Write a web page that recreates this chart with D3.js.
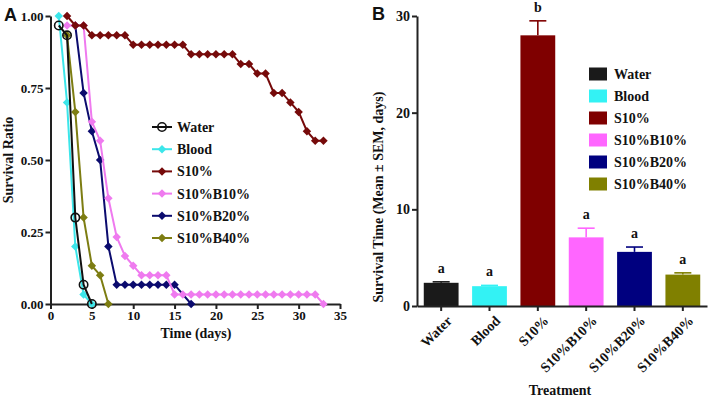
<!DOCTYPE html>
<html><head><meta charset="utf-8">
<script src="https://cdn.jsdelivr.net/npm/d3@7"></script>
<style>
html,body{margin:0;padding:0;background:#fff;}
svg text{font-family:"Liberation Serif","Times New Roman",serif;font-weight:bold;fill:#111;}
</style></head>
<body>
<svg id="c" width="708" height="398"></svg>
<script>
// ---------- DATA ----------
const seriesNames = ["Water","Blood","S10%","S10%B10%","S10%B20%","S10%B40%"];
const seriesColors = ["#111111","#3ce6ea","#760a0a","#ef7aef","#0b0b6e","#7d7d12"];
const barColors = ["#1a1a1a","#33f2f4","#7f0000","#ff66ff","#00007f","#808000"];

const waterDays  = [1,2,3,4,5];
const waterVals  = [0.967,0.933,0.300,0.067,0];
const bloodDays  = [1,2,3,4,5];
const bloodVals  = [1.0,0.700,0.200,0.033,0];
const s10Days    = [2,3,4,5,6,7,8,9,10,11,12,13,14,15,16,17,18,19,20,21,22,23,24,25,26,27,28,29,30,31,32,33];
const s10Vals    = [1.0,0.967,0.967,0.933,0.933,0.933,0.933,0.933,0.9,0.9,0.9,0.9,0.9,0.9,0.9,0.867,0.867,0.867,0.867,0.867,0.867,0.833,0.833,0.8,0.8,0.733,0.733,0.7,0.667,0.6,0.567,0.567];
const b10Days    = [2,3,4,5,6,7,8,9,10,11,12,13,14,15,16,17,18,19,20,21,22,23,24,25,26,27,28,29,30,31,32,33];
const b10Vals    = [0.967,0.967,0.967,0.633,0.567,0.367,0.233,0.167,0.133,0.1,0.1,0.1,0.1,0.033,0.033,0.033,0.033,0.033,0.033,0.033,0.033,0.033,0.033,0.033,0.033,0.033,0.033,0.033,0.033,0.033,0.033,0];
const b20Days    = [3,4,5,6,7,8,9,10,11,12,13,14,15,17];
const b20Vals    = [0.967,0.733,0.6,0.5,0.2,0.067,0.067,0.067,0.067,0.067,0.067,0.067,0.067,0];
const b40Days    = [2,3,4,5,6,7];
const b40Vals    = [0.933,0.667,0.3,0.133,0.1,0];

const xTicksA = [0,5,10,15,20,25,30,35];
const yTicksA = [0,0.25,0.5,0.75,1.0];

const barCats  = ["Water","Blood","S10%","S10%B10%","S10%B20%","S10%B40%"];
const barMeans = [2.4,2.05,28.0,7.1,5.6,3.25];
const barSEM   = [0.1,0.08,1.5,0.95,0.5,0.18];
const barLetters = ["a","a","b","a","a","a"];
const yTicksB = [0,10,20,30];

// ---------- PANEL A ----------
const svg = d3.select("#c");
const axisCol = "#222";
const xA = d3.scaleLinear().domain([0,35]).range([50.5,340]);
const yA = d3.scaleLinear().domain([0,1]).range([304,16]);

const gA = svg.append("g");
gA.append("g").attr("transform","translate(0,304)")
  .call(d3.axisBottom(xA).tickValues(xTicksA).tickSize(5).tickSizeOuter(0).tickPadding(2))
  .call(g=>{g.select(".domain").attr("stroke",axisCol).attr("stroke-width",2);
    g.selectAll(".tick line").attr("stroke",axisCol).attr("stroke-width",2);
    g.selectAll("text").attr("font-size",13).attr("fill","#111");});
gA.append("g").attr("transform","translate(50.5,0)")
  .call(d3.axisLeft(yA).tickValues(yTicksA).tickFormat(d3.format(".2f")).tickSize(5).tickSizeOuter(0).tickPadding(2))
  .call(g=>{g.select(".domain").attr("stroke",axisCol).attr("stroke-width",2);
    g.selectAll(".tick line").attr("stroke",axisCol).attr("stroke-width",2);
    g.selectAll("text").attr("font-size",13).attr("fill","#111");});

const series = [
  {d:waterDays,v:waterVals},{d:bloodDays,v:bloodVals},{d:s10Days,v:s10Vals},
  {d:b10Days,v:b10Vals},{d:b20Days,v:b20Vals},{d:b40Days,v:b40Vals}
];
const line = d3.line().x(p=>xA(p[0])).y(p=>yA(p[1]));
const diamond = d3.symbol().type(d3.symbolSquare).size(36);
for (let i = series.length-1; i>=0; i--) {
  const pts = series[i].d.map((d,j)=>[d,series[i].v[j]]);
  const col = seriesColors[i];
  gA.append("path").datum(pts).attr("d",line).attr("fill","none")
    .attr("stroke",col).attr("stroke-width",2);
  if (i===0) {
    gA.selectAll(null).data(pts).enter().append("circle")
      .attr("cx",p=>xA(p[0])).attr("cy",p=>yA(p[1])).attr("r",4.2)
      .attr("fill","none").attr("stroke",col).attr("stroke-width",1.6);
  } else {
    gA.selectAll(null).data(pts).enter().append("path")
      .attr("d",diamond)
      .attr("transform",p=>`translate(${xA(p[0])},${yA(p[1])}) rotate(45)`)
      .attr("fill",col);
  }
}
// legend A
const legA = gA.append("g");
seriesNames.forEach((n,i)=>{
  const y = 127 + i*22.2;
  legA.append("line").attr("x1",152).attr("x2",172).attr("y1",y).attr("y2",y)
    .attr("stroke",seriesColors[i]).attr("stroke-width",2);
  if (i===0) legA.append("circle").attr("cx",162).attr("cy",y).attr("r",4.2)
      .attr("fill","none").attr("stroke",seriesColors[i]).attr("stroke-width",1.6);
  else legA.append("path").attr("d",diamond).attr("transform",`translate(162,${y}) rotate(45)`)
      .attr("fill",seriesColors[i]);
  legA.append("text").attr("x",177).attr("y",y+5).attr("font-size",14).text(n);
});
gA.append("text").attr("transform","translate(13,160) rotate(-90)")
  .attr("text-anchor","middle").attr("font-size",14).text("Survival Ratio");
gA.append("text").attr("x",196).attr("y",338).attr("text-anchor","middle")
  .attr("font-size",14).text("Time (days)");
svg.append("text").attr("x",4).attr("y",21).attr("font-size",18)
  .style("font-family","Liberation Sans, Arial, sans-serif").text("A");

// ---------- PANEL B ----------
const xB = d3.scaleBand().domain(barCats).range([417,707]).paddingInner(0.28).paddingOuter(0.14);
const yB = d3.scaleLinear().domain([0,30]).range([306,16]);
const gB = svg.append("g");

gB.selectAll(null).data(barCats).enter().append("rect")
  .attr("x",c=>xB(c)).attr("width",xB.bandwidth())
  .attr("y",(c,i)=>yB(barMeans[i])).attr("height",(c,i)=>yB(0)-yB(barMeans[i]))
  .attr("fill",(c,i)=>barColors[i]);
// error bars
barCats.forEach((c,i)=>{
  const cx = xB(c)+xB.bandwidth()/2;
  const top = yB(barMeans[i]+barSEM[i]);
  gB.append("line").attr("x1",cx).attr("x2",cx).attr("y1",yB(barMeans[i])).attr("y2",top)
    .attr("stroke",barColors[i]).attr("stroke-width",1.6);
  gB.append("line").attr("x1",cx-8.5).attr("x2",cx+8.5).attr("y1",top).attr("y2",top)
    .attr("stroke",barColors[i]).attr("stroke-width",1.6);
  gB.append("text").attr("x",cx).attr("y",top-9).attr("text-anchor","middle")
    .attr("font-size",14).text(barLetters[i]);
});

gB.append("g").attr("transform","translate(0,306)")
  .call(d3.axisBottom(xB).tickSize(5).tickSizeOuter(0).tickPadding(3))
  .call(g=>{g.select(".domain").attr("stroke",axisCol).attr("stroke-width",2);
    g.selectAll(".tick line").attr("stroke",axisCol).attr("stroke-width",2);
    g.selectAll("text").attr("font-size",14).attr("fill","#111")
      .attr("text-anchor","end").attr("dy",null)
      .attr("transform","translate(6,10) rotate(-45)");});
gB.append("g").attr("transform","translate(417,0)")
  .call(d3.axisLeft(yB).tickValues(yTicksB).tickSize(5).tickSizeOuter(0).tickPadding(2))
  .call(g=>{g.select(".domain").attr("stroke",axisCol).attr("stroke-width",2);
    g.selectAll(".tick line").attr("stroke",axisCol).attr("stroke-width",2);
    g.selectAll("text").attr("font-size",14).attr("fill","#111");});

// legend B
barCats.forEach((n,i)=>{
  const y = 74 + i*22;
  gB.append("rect").attr("x",589).attr("y",y-6.5).attr("width",18).attr("height",13)
    .attr("fill",barColors[i]);
  gB.append("text").attr("x",614).attr("y",y+5).attr("font-size",14).text(n);
});
gB.append("text").attr("transform","translate(383,197) rotate(-90)")
  .attr("text-anchor","middle").attr("font-size",14).text("Survival Time (Mean \u00b1 SEM, days)");
gB.append("text").attr("x",560).attr("y",395).attr("text-anchor","middle")
  .attr("font-size",14).text("Treatment");
svg.append("text").attr("x",372).attr("y",20).attr("font-size",18)
  .style("font-family","Liberation Sans, Arial, sans-serif").text("B");
</script>
</body></html>
